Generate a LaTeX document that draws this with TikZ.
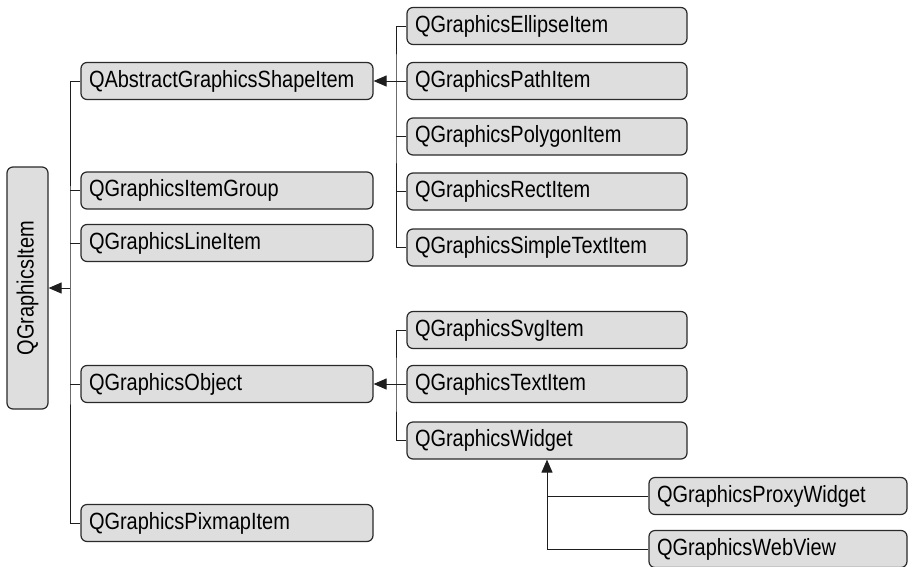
\documentclass[tikz,border=0pt]{standalone}
\usepackage{fontspec}
\setmainfont{Liberation Sans}[FakeStretch=0.85]
\usetikzlibrary{arrows.meta}
\definecolor{boxfill}{HTML}{DEDEDE}
\definecolor{boxline}{HTML}{2A2A2A}
\definecolor{conn}{HTML}{1E1E1E}
\begin{document}
\begin{tikzpicture}[x=1pt,y=-1pt,
  cls/.style={draw=boxline,line width=1.2pt,fill=boxfill,rounded corners=6pt,
    minimum height=37pt,inner xsep=8pt,inner ysep=0pt,align=left,
    font=\fontsize{23.5}{26}\selectfont},
  lone/.style={cls,text width=276pt,minimum width=292pt},
  ltwo/.style={cls,text width=264pt,minimum width=280pt},
  lthree/.style={cls,text width=242pt,minimum width=258pt},
  wire/.style={draw=conn,line width=1pt},
  inh/.style={wire,-{Triangle[length=13pt,width=11pt]}}]
\clip (0,0) rectangle (914,566);
\fill[white] (0,0) rectangle (914,566);
% root
\node[draw=boxline,line width=1.2pt,fill=boxfill,rounded corners=6pt,
  minimum width=41pt,minimum height=242pt,inner sep=0pt] (root) at (27.5,288) {};
\node[rotate=90,font=\fontsize{23.5}{26}\selectfont] (rootlbl) at (root.center) {QGraphicsItem};
% level 1
\node[lone] (abs) at (227,81) {QAbstractGraphicsShapeItem};
\node[lone] (grp) at (227,190.5) {QGraphicsItemGroup};
\node[lone] (line) at (227,243) {QGraphicsLineItem};
\node[lone] (obj) at (227,384) {QGraphicsObject};
\node[lone] (pix) at (227,523) {QGraphicsPixmapItem};
% level 2
\node[ltwo] (ell) at (547,26) {QGraphicsEllipseItem};
\node[ltwo] (path) at (547,81) {QGraphicsPathItem};
\node[ltwo] (poly) at (547,136.5) {QGraphicsPolygonItem};
\node[ltwo] (rect) at (547,191.5) {QGraphicsRectItem};
\node[ltwo] (simple) at (547,247.5) {QGraphicsSimpleTextItem};
\node[ltwo] (svg) at (547,330) {QGraphicsSvgItem};
\node[ltwo] (text) at (547,384) {QGraphicsTextItem};
\node[ltwo] (widget) at (547,440.5) {QGraphicsWidget};
% level 3
\node[lthree] (proxy) at (778,496) {QGraphicsProxyWidget};
\node[lthree] (web) at (778,549) {QGraphicsWebView};
% trunks
\coordinate (t1) at (70,288);
\coordinate (t2) at (396,81);
\coordinate (t3) at (396,384);
% root connectors
\draw[wire] (abs.west) -| (t1) |- (pix.west);
\draw[wire] (grp.west) -- (grp.west -| t1);
\draw[wire] (line.west) -- (line.west -| t1);
\draw[wire] (obj.west) -- (obj.west -| t1);
\draw[inh] (t1) -- (root.east);
% shape group
\draw[wire] (ell.west) -| (t2) |- (simple.west);
\draw[wire] (poly.west) -- (poly.west -| t2);
\draw[wire] (rect.west) -- (rect.west -| t2);
\draw[inh] (path.west) -- (abs.east);
% object group
\draw[wire] (svg.west) -| (t3) |- (widget.west);
\draw[inh] (text.west) -- (obj.east);
% widget group
\draw[inh] (web.west) -| (widget.south);
\draw[wire] (proxy.west) -- (proxy.west -| widget.south);
\end{tikzpicture}
\end{document}
